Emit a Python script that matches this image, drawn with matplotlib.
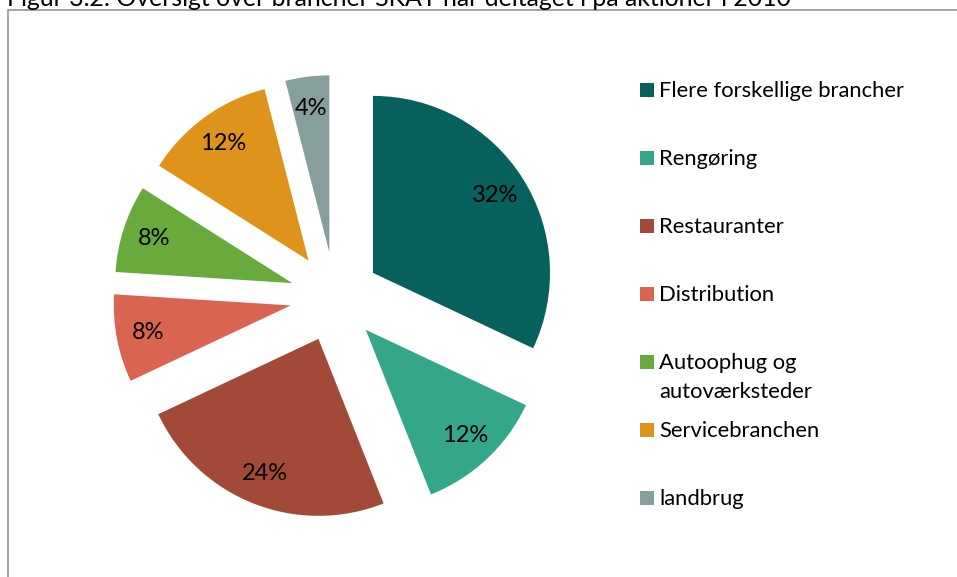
import matplotlib.pyplot as plt
from matplotlib.patches import Rectangle

# data
categories = ["Flere forskellige brancher", "Rengøring", "Restauranter",
              "Distribution", "Autoophug og\nautoværksteder",
              "Servicebranchen", "landbrug"]
shares = [32, 12, 24, 8, 8, 12, 4]
colors = ["#06605c", "#34a68a", "#a34937", "#d96452", "#68aa3c",
          "#de941b", "#869e9c"]
title = "Figur 3.2: Oversigt over brancher SKAT har deltaget i på aktioner i 2010"

plt.rcParams["font.family"] = ["Lato", "DejaVu Sans"]
W, H = 957, 577
fig = plt.figure(figsize=(W / 100, H / 100), dpi=100)
# axes spans the whole figure, data units = pixels
ax = fig.add_axes([0, 0, 1, 1])

radius = 177
wedges, texts, autotexts = ax.pie(
    shares, colors=colors, startangle=90, counterclock=False,
    radius=radius, center=(335, H - 297), explode=[45] * len(shares),
    autopct="%1.0f%%", pctdistance=0.82,
    wedgeprops=dict(linewidth=0),
    textprops=dict(fontsize=17, color="black"))

ax.set_xlim(0, W)
ax.set_ylim(0, H)
ax.axis("off")

# legend drawn by hand so the wrapped entry keeps its box on the first line
legend_x, first_base, step, line_step = 640, 97, 68, 29
for i, (lab, col) in enumerate(zip(categories, colors)):
    base = H - (first_base + i * step)
    ax.add_patch(Rectangle((legend_x, base), 14, 14, facecolor=col,
                           edgecolor="none", clip_on=False))
    for j, line in enumerate(lab.split("\n")):
        ax.text(legend_x + 19, base - j * line_step, line, fontsize=15.8,
                va="baseline", ha="left", clip_on=False)

# outer chart frame (partly outside the crop)
ax.add_patch(Rectangle((8, -20), W + 20, H - 10 + 20, facecolor="none",
                       edgecolor="#8c8c8c", linewidth=1.1, clip_on=False))

# caption, cut off by the top edge like the reference
ax.text(7, H - 6, title, fontsize=17.9, va="baseline",
        ha="left", clip_on=False)

fig.savefig("out.png", dpi=100)
